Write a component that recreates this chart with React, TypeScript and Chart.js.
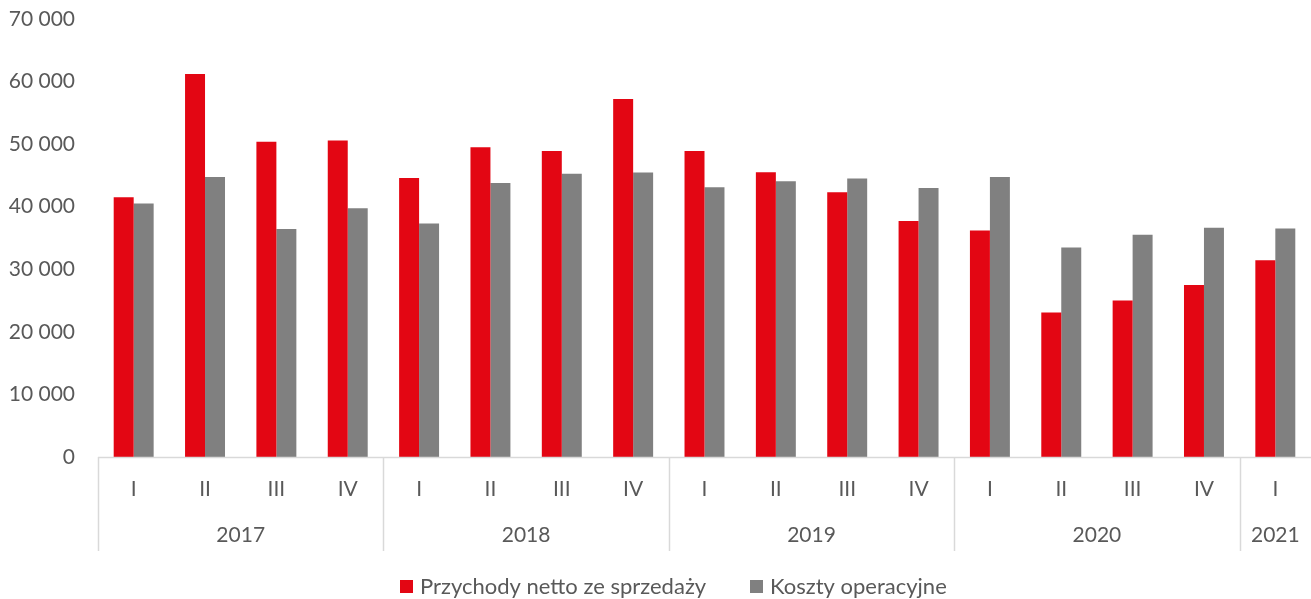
import React, { useEffect, useRef } from "react";
import { Chart, registerables } from "chart.js";

Chart.register(...registerables);

const quarters = ["I", "II", "III", "IV", "I", "II", "III", "IV", "I", "II", "III", "IV", "I", "II", "III", "IV", "I"];
const years = ["2017", "2018", "2019", "2020", "2021"];
const yearSpans = [4, 4, 4, 4, 1];
const revenue = [41500, 61200, 50400, 50600, 44600, 49500, 48900, 57200, 48900, 45500, 42300, 37700, 36200, 23100, 25000, 27500, 31450];
const costs = [40500, 44750, 36450, 39750, 37300, 43800, 45250, 45450, 43100, 44050, 44500, 43000, 44750, 33500, 35500, 36650, 36500];
const seriesNames = ["Przychody netto ze sprzedaży", "Koszty operacyjne"];
const yTicks = [0, 10000, 20000, 30000, 40000, 50000, 60000, 70000];

const RED = "#E30613";
const GRAY = "#808080";
const TEXT = "#595959";
const LINE = "#D9D9D9";
const FONT = "Lato, 'Open Sans', sans-serif";

const fmt = (v: number) => String(v).replace(/\B(?=(\d{3})+(?!\d))/g, " ");

const multiAxis = {
  id: "multiAxis",
  afterDraw(chart: any) {
    const { ctx, chartArea } = chart;
    const x = chart.scales.x;
    const n = quarters.length;
    const cw = (chartArea.right - chartArea.left) / n;
    const base = chartArea.bottom;
    ctx.save();
    ctx.strokeStyle = LINE;
    ctx.lineWidth = 1.5;
    ctx.beginPath();
    ctx.moveTo(chartArea.left, base + 0.5);
    ctx.lineTo(chartArea.right, base + 0.5);
    ctx.stroke();
    let idx = 0;
    const bounds: number[] = [0];
    yearSpans.forEach((s) => {
      idx += s;
      bounds.push(idx);
    });
    bounds.forEach((b) => {
      if (b >= n) return;
      const px = Math.round(chartArea.left + b * cw) + 0.5;
      ctx.beginPath();
      ctx.moveTo(px, base);
      ctx.lineTo(px, base + 94);
      ctx.stroke();
    });
    ctx.fillStyle = TEXT;
    ctx.font = `21px ${FONT}`;
    ctx.textAlign = "center";
    ctx.textBaseline = "middle";
    quarters.forEach((q, i) => {
      ctx.fillText(q, x.getPixelForValue(i), base + 32);
    });
    years.forEach((y, i) => {
      const start = bounds[i];
      const end = bounds[i + 1];
      const cx = chartArea.left + ((start + end) / 2) * cw;
      ctx.fillText(y, cx, base + 78);
    });
    const ly = 587;
    const items = [
      { name: seriesNames[0], color: RED, x: 400 },
      { name: seriesNames[1], color: GRAY, x: 750 },
    ];
    ctx.textAlign = "left";
    ctx.font = `22px ${FONT}`;
    items.forEach((it) => {
      ctx.fillStyle = it.color;
      ctx.fillRect(it.x, ly - 7, 13, 13);
      ctx.fillStyle = TEXT;
      ctx.fillText(it.name, it.x + 20, ly);
    });
    ctx.restore();
  },
};

export default function App() {
  const ref = useRef<HTMLCanvasElement>(null);
  useEffect(() => {
    document.body.style.margin = "0";
    const chart = new Chart(ref.current as HTMLCanvasElement, {
      type: "bar",
      data: {
        labels: quarters,
        datasets: [
          { label: seriesNames[0], data: revenue, backgroundColor: RED, borderWidth: 0 },
          { label: seriesNames[1], data: costs, backgroundColor: GRAY, borderWidth: 0 },
        ],
      },
      options: {
        animation: false,
        responsive: false,
        maintainAspectRatio: false,
        layout: { padding: { top: 19, right: 0, left: 0, bottom: 0 } },
        datasets: { bar: { categoryPercentage: 0.56, barPercentage: 1 } } as any,
        plugins: { legend: { display: false }, tooltip: { enabled: false } },
        scales: {
          x: {
            grid: { display: false },
            border: { display: false },
            ticks: { display: false },
            afterFit: (s: any) => {
              s.height = 142;
              s.paddingLeft = 0;
              s.paddingRight = 0;
            },
          },
          y: {
            min: 0,
            max: 70000,
            afterBuildTicks: (s: any) => {
              s.ticks = yTicks.map((v) => ({ value: v }));
            },
            grid: { display: false, drawTicks: false },
            border: { display: false },
            ticks: {
              padding: 23,
              color: TEXT,
              font: { family: FONT, size: 21 },
              callback: (v: any) => fmt(Number(v)),
            },
            afterFit: (s: any) => {
              s.width = 98;
              s.paddingTop = 0;
              s.paddingBottom = 0;
            },
          },
        },
      },
      plugins: [multiAxis],
    });
    return () => chart.destroy();
  }, []);
  return (
    <div style={{ width: 1311, height: 599 }}>
      <canvas ref={ref} width={1311} height={599} style={{ display: "block" }} />
    </div>
  );
}
